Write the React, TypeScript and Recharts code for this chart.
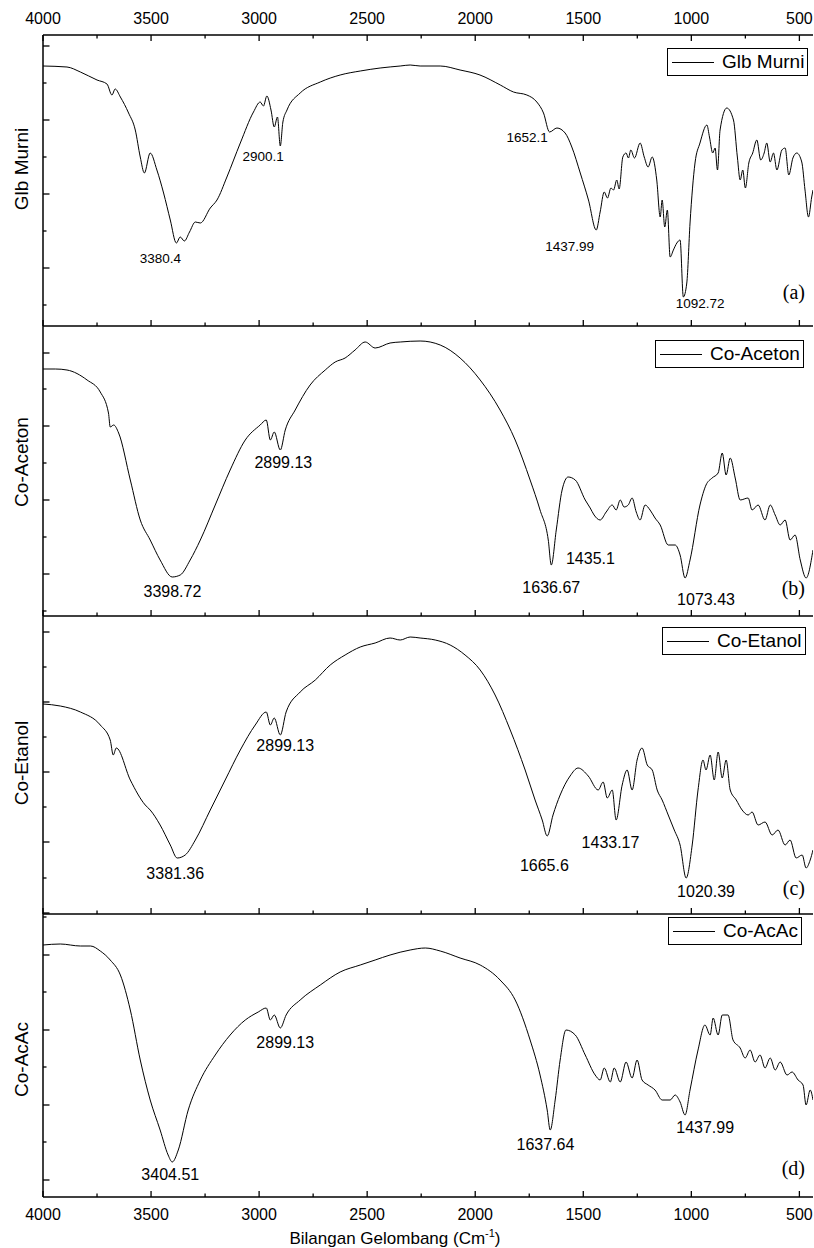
import React from "react";
import { LineChart, Line, XAxis, YAxis, ReferenceDot, Legend, Label } from "recharts";

const FONT = "'Liberation Sans', Arial, sans-serif";
const SERIF = "'Liberation Serif', 'Times New Roman', serif";

const xTicks = [4000, 3750, 3500, 3250, 3000, 2750, 2500, 2250, 2000, 1750, 1500, 1250, 1000, 750, 500];
const X_MIN = 437;
const X_MAX = 4000;

// (a) Glb Murni
const waveA = [
  4000, 3889, 3827, 3750, 3704, 3681, 3666, 3642, 3604, 3573,
  3550, 3531, 3504, 3473, 3442, 3411, 3383, 3365, 3346, 3322,
  3295, 3272, 3226, 3195, 3149, 3087, 3026, 2995, 2980, 2964,
  2945, 2930, 2915, 2902, 2890, 2871, 2810, 2717, 2625, 2532,
  2440, 2347, 2301, 2255, 2162, 2070, 1978, 1884, 1823, 1761,
  1715, 1684, 1656, 1622, 1584, 1553, 1514, 1476, 1440, 1422,
  1403, 1388, 1372, 1360, 1345, 1334, 1317, 1302, 1291, 1280,
  1263, 1237, 1218, 1200, 1181, 1160, 1144, 1135, 1123, 1111,
  1098, 1083, 1067, 1052, 1037, 1021, 1006, 983, 960, 928,
  916, 901, 890, 879, 867, 836, 805, 787, 774, 762,
  750, 734, 716, 697, 679, 663, 651, 635, 620, 604,
  581, 566, 549, 530, 512, 489, 474, 458, 443, 437,
];
const glbMurni = [
  260, 259, 254, 246, 242, 231, 237, 229, 213, 196,
  169, 153, 173, 156, 133, 106, 83, 89, 85, 94,
  104, 103, 118, 126, 149, 183, 214, 224, 220, 230,
  216, 199, 209, 180, 204, 216, 233, 244, 251, 255,
  258, 260, 261, 260, 260, 256, 251, 241, 234, 231,
  224, 213, 194, 198, 193, 179, 153, 126, 96, 114,
  134, 128, 138, 136, 146, 137, 169, 173, 168, 176,
  168, 183, 169, 159, 169, 146, 109, 126, 99, 116,
  69, 76, 83, 86, 29, 43, 103, 163, 183, 201,
  189, 173, 178, 156, 196, 218, 206, 169, 146, 156,
  138, 163, 173, 186, 166, 173, 183, 164, 173, 156,
  176, 178, 151, 168, 173, 164, 136, 109, 129, 136,
];

// (b) Co-Aceton
const waveB = [
  4000, 3943, 3889, 3796, 3735, 3697, 3689, 3673, 3650, 3596,
  3550, 3504, 3458, 3402, 3365, 3319, 3272, 3203, 3134, 3064,
  2995, 2967, 2948, 2930, 2902, 2879, 2833, 2764, 2694, 2648,
  2602, 2556, 2509, 2463, 2394, 2347, 2255, 2162, 2070, 1977,
  1885, 1815, 1746, 1700, 1662, 1648, 1625, 1598, 1570, 1537,
  1491, 1468, 1450, 1422, 1394, 1366, 1348, 1329, 1311, 1292,
  1274, 1255, 1237, 1214, 1191, 1168, 1144, 1107, 1075, 1052,
  1029, 1006, 960, 932, 904, 876, 857, 839, 820, 797,
  774, 737, 719, 691, 659, 635, 612, 589, 566, 543,
  520, 496, 469, 437,
];
const coAceton = [
  247, 247, 246, 236, 224, 203, 189, 191, 183, 136,
  96, 76, 56, 39, 41, 56, 76, 111, 146, 176,
  191, 196, 176, 184, 166, 186, 206, 231, 246, 254,
  258, 266, 274, 268, 273, 274, 275, 271, 258, 236,
  206, 176, 136, 106, 76, 51, 86, 126, 139, 136,
  116, 108, 101, 96, 104, 111, 106, 116, 109, 111,
  118, 104, 96, 111, 106, 98, 91, 71, 71, 61,
  38, 56, 111, 131, 138, 143, 163, 141, 158, 138,
  116, 118, 106, 111, 96, 111, 101, 91, 96, 76,
  81, 56, 38, 66,
];

// (c) Co-Etanol
const waveC = [
  4000, 3920, 3827, 3735, 3689, 3675, 3661, 3596, 3527, 3504,
  3458, 3411, 3379, 3342, 3295, 3226, 3157, 3087, 3018, 2967,
  2948, 2930, 2902, 2875, 2810, 2740, 2671, 2602, 2532, 2463,
  2394, 2347, 2301, 2255, 2185, 2116, 2047, 1977, 1908, 1838,
  1769, 1723, 1690, 1667, 1640, 1607, 1561, 1524, 1477, 1431,
  1408, 1389, 1366, 1348, 1320, 1297, 1274, 1251, 1228, 1204,
  1181, 1158, 1135, 1107, 1079, 1052, 1024, 996, 969, 946,
  932, 913, 894, 876, 857, 839, 820, 792, 765, 737,
  719, 691, 659, 626, 599, 566, 543, 515, 487, 469,
  450, 437,
];
const coEtanol = [
  210, 208, 202, 189, 174, 159, 166, 134, 109, 104,
  89, 69, 56, 59, 74, 104, 134, 164, 189, 202,
  189, 196, 179, 202, 222, 234, 249, 259, 267, 271,
  276, 274, 277, 276, 274, 269, 259, 244, 219, 184,
  144, 114, 94, 78, 99, 119, 138, 146, 138, 124,
  132, 116, 124, 94, 129, 144, 124, 154, 166, 149,
  144, 124, 114, 99, 84, 69, 36, 69, 124, 154,
  144, 159, 134, 162, 136, 154, 124, 114, 104, 99,
  102, 89, 92, 79, 84, 69, 74, 56, 59, 46,
  54, 64,
];

// (d) Co-AcAc
const waveD = [
  4000, 3920, 3827, 3780, 3735, 3689, 3642, 3596, 3550, 3504,
  3458, 3421, 3402, 3374, 3328, 3272, 3203, 3134, 3064, 3004,
  2967, 2948, 2930, 2902, 2875, 2810, 2717, 2625, 2532, 2463,
  2394, 2301, 2231, 2162, 2070, 1977, 1885, 1815, 1746, 1700,
  1667, 1653, 1630, 1607, 1580, 1537, 1491, 1445, 1422, 1403,
  1375, 1357, 1329, 1302, 1274, 1251, 1228, 1200, 1168, 1135,
  1098, 1075, 1052, 1029, 1006, 969, 937, 913, 899, 876,
  857, 830, 807, 774, 751, 728, 705, 682, 659, 635,
  612, 589, 557, 534, 506, 483, 469, 450, 437,
];
const coAcAc = [
  252, 253, 251, 251, 246, 237, 222, 187, 137, 97,
  67, 42, 35, 47, 87, 117, 142, 162, 177, 185,
  189, 177, 182, 169, 182, 197, 212, 225, 232, 237,
  242, 247, 249, 246, 239, 232, 217, 197, 157, 122,
  87, 67, 97, 137, 167, 162, 142, 122, 117, 129,
  115, 129, 115, 135, 119, 137, 117, 112, 107, 97,
  97, 102, 95, 82, 107, 147, 172, 162, 179, 162,
  182, 182, 157, 149, 139, 147, 135, 142, 129, 139,
  127, 135, 122, 125, 117, 112, 92, 107, 97,
];

type Peak = { w: number; t: number; text: string };

const peaksA: Peak[] = [
  { w: 3457, t: 68, text: "3380.4" },
  { w: 2981, t: 170, text: "2900.1" },
  { w: 1760, t: 189, text: "1652.1" },
  { w: 1563, t: 80, text: "1437.99" },
  { w: 959, t: 23, text: "1092.72" },
];
const peaksB: Peak[] = [
  { w: 3401, t: 25, text: "3398.72" },
  { w: 2888, t: 154, text: "2899.13" },
  { w: 1648, t: 29, text: "1636.67" },
  { w: 1467, t: 58, text: "1435.1" },
  { w: 932, t: 17, text: "1073.43" },
];
const peaksC: Peak[] = [
  { w: 3388, t: 41, text: "3381.36" },
  { w: 2879, t: 169, text: "2899.13" },
  { w: 1680, t: 49, text: "1665.6" },
  { w: 1374, t: 72, text: "1433.17" },
  { w: 932, t: 23, text: "1020.39" },
];
const peaksD: Peak[] = [
  { w: 3411, t: 23, text: "3404.51" },
  { w: 2879, t: 155, text: "2899.13" },
  { w: 1675, t: 53, text: "1637.64" },
  { w: 936, t: 70, text: "1437.99" },
];

function XTick(props: any) {
  const { x, y, payload, side, showLabel } = props;
  const major = payload.value % 500 === 0;
  const len = major ? 6 : 3.5;
  const dir = side === "top" ? 1 : -1;
  return (
    <g>
      <line x1={x} y1={y} x2={x} y2={y + dir * len} stroke="#000" strokeWidth={1.3} />
      {showLabel && major && (
        <text
          x={x}
          y={side === "top" ? y - 11 : y + 22.6}
          textAnchor="middle"
          fontSize={16}
          fontFamily={FONT}
          fill="#000"
        >
          {payload.value}
        </text>
      )}
    </g>
  );
}

function YTick(props: any) {
  const { x, y, payload, majors } = props;
  const len = majors.includes(payload.value) ? 6.5 : 3.5;
  return <line x1={x} y1={y} x2={x + len} y2={y} stroke="#000" strokeWidth={1.3} />;
}

function LegendBox({ name }: { name: string }) {
  return (
    <div
      style={{
        display: "inline-flex",
        alignItems: "center",
        height: 26,
        padding: "0 3px 0 4px",
        border: "1px solid #000",
        background: "#fff",
        fontFamily: FONT,
        fontSize: 19,
        color: "#000",
        whiteSpace: "nowrap",
      }}
    >
      <span style={{ display: "inline-block", width: 42, borderTop: "1px solid #000", marginRight: 8 }} />
      {name}
    </div>
  );
}

type PanelProps = {
  top: number;
  height: number;
  wave: number[];
  values: number[];
  name: string;
  letter: string;
  yMax: number;
  yMajor: number[];
  yMinor: number[];
  peaks: Peak[];
  peakFont: number;
  legendTop: number;
  legendLeft: number;
  titleShift: number;
  letterTop: number;
  topAxis?: boolean;
  bottomLabels?: boolean;
};

function Panel(p: PanelProps) {
  const data = p.wave.map((w, i) => ({ w, t: p.values[i] }));
  const yTicks = [...p.yMajor, ...p.yMinor].sort((a, b) => a - b);
  const bottomH = p.bottomLabels ? 51 : 1;
  return (
    <div style={{ position: "absolute", left: 0, top: p.top, width: 814, height: p.height }}>
      <LineChart
        width={814}
        height={p.height}
        data={data}
        margin={{ top: 0, right: 1, bottom: 0, left: 0 }}
      >
        {p.topAxis && (
          <XAxis
            xAxisId="top"
            orientation="top"
            dataKey="w"
            type="number"
            domain={[X_MIN, X_MAX]}
            allowDataOverflow
            reversed
            height={35}
            ticks={xTicks}
            interval={0}
            tickLine={false}
            tickSize={0}
            tickMargin={0}
            axisLine={{ stroke: "#000", strokeWidth: 1.5 }}
            tick={(tp: any) => <XTick {...tp} side="top" showLabel />}
          />
        )}
        <XAxis
          xAxisId="main"
          orientation="bottom"
          dataKey="w"
          type="number"
          domain={[X_MIN, X_MAX]}
          allowDataOverflow
          reversed
          height={bottomH}
          ticks={xTicks}
          interval={0}
          tickLine={false}
          tickSize={0}
          tickMargin={0}
          axisLine={{ stroke: "#000", strokeWidth: 1.5 }}
          tick={(tp: any) => <XTick {...tp} side="bottom" showLabel={!!p.bottomLabels} />}
          label={
            p.bottomLabels ? (
              <Label
                content={(lp: any) => {
                  const vb = lp.viewBox;
                  return (
                    <text
                      x={vb.x + vb.width / 2 - 33}
                      y={vb.y + vb.height - 4}
                      textAnchor="middle"
                      fontSize={17}
                      fontFamily={FONT}
                      fill="#000"
                    >
                      Bilangan Gelombang (Cm
                      <tspan dy={-7} fontSize={11}>
                        -1
                      </tspan>
                      <tspan dy={7}>)</tspan>
                    </text>
                  );
                }}
              />
            ) : undefined
          }
        />
        <YAxis
          type="number"
          domain={[0, p.yMax]}
          allowDataOverflow
          width={43}
          ticks={yTicks}
          interval={0}
          tickLine={false}
          tickSize={0}
          tickMargin={0}
          axisLine={{ stroke: "#000", strokeWidth: 1.5 }}
          tick={(tp: any) => <YTick {...tp} majors={p.yMajor} />}
          label={
            <Label
              content={(lp: any) => {
                const vb = lp.viewBox;
                const cy = vb.y + vb.height / 2 + p.titleShift;
                return (
                  <text
                    x={28}
                    y={cy}
                    transform={`rotate(-90, 28, ${cy})`}
                    textAnchor="middle"
                    fontSize={19}
                    fontFamily={FONT}
                    fill="#000"
                  >
                    {p.name}
                  </text>
                );
              }}
            />
          }
        />
        <Line
          xAxisId="main"
          type="monotone"
          dataKey="t"
          name={p.name}
          stroke="#000"
          strokeWidth={1}
          dot={false}
          isAnimationActive={false}
        />
        {p.peaks.map((pk) => (
          <ReferenceDot
            key={pk.text + pk.w}
            xAxisId="main"
            x={pk.w}
            y={pk.t}
            r={0}
            fill="none"
            stroke="none"
            label={{
              value: pk.text,
              position: "center",
              fontSize: p.peakFont,
              fontFamily: FONT,
              fill: "#000",
            }}
          />
        ))}
        <Legend
          layout="horizontal"
          verticalAlign="middle"
          align="center"
          content={() => <LegendBox name={p.name} />}
          wrapperStyle={{ left: p.legendLeft, top: p.legendTop, width: "auto", height: "auto" }}
        />
      </LineChart>
      <div
        style={{
          position: "absolute",
          right: 9,
          top: p.letterTop,
          fontFamily: SERIF,
          fontSize: 20,
          lineHeight: "20px",
          color: "#000",
        }}
      >
        ({p.letter})
      </div>
    </div>
  );
}

export default function App() {
  return (
    <div style={{ position: "absolute", left: 0, top: 0, width: 814, height: 1248, background: "#fff" }}>
      <Panel
        top={0}
        height={327}
        wave={waveA}
        values={glbMurni}
        name="Glb Murni"
        letter="a"
        yMax={291}
        yMajor={[58, 132, 206, 280]}
        yMinor={[21, 95, 169, 243]}
        peaks={peaksA}
        peakFont={13.5}
        legendTop={48}
        legendLeft={667}
        titleShift={-11.5}
        letterTop={282}
        topAxis
      />
      <Panel
        top={326}
        height={291}
        wave={waveB}
        values={coAceton}
        name="Co-Aceton"
        letter="b"
        yMax={290}
        yMajor={[42, 116, 190, 263]}
        yMinor={[5, 79, 153, 227]}
        peaks={peaksB}
        peakFont={16}
        legendTop={14}
        legendLeft={655}
        titleShift={-9}
        letterTop={252}
      />
      <Panel
        top={616}
        height={299}
        wave={waveC}
        values={coEtanol}
        name="Co-Etanol"
        letter="c"
        yMax={298}
        yMajor={[1, 72, 142, 212, 282]}
        yMinor={[36, 107, 177, 247]}
        peaks={peaksC}
        peakFont={16}
        legendTop={11}
        legendLeft={662}
        titleShift={-2}
        letterTop={262}
      />
      <Panel
        top={914}
        height={334}
        wave={waveD}
        values={coAcAc}
        name="Co-AcAc"
        letter="d"
        yMax={283}
        yMajor={[17, 92, 167, 242]}
        yMinor={[55, 130, 205, 280]}
        peaks={peaksD}
        peakFont={16}
        legendTop={3}
        legendLeft={668}
        titleShift={4}
        letterTop={244}
        bottomLabels
      />
    </div>
  );
}
